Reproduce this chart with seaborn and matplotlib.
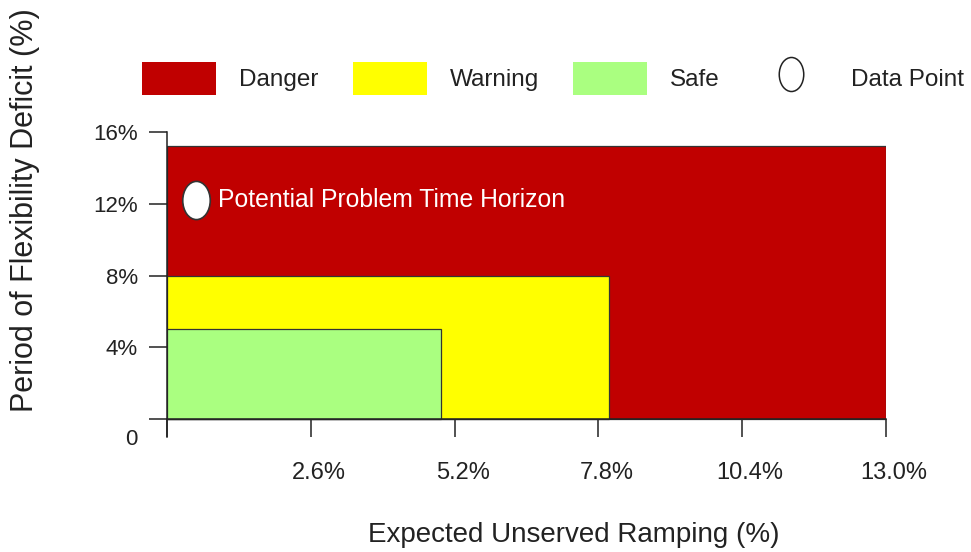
import matplotlib
matplotlib.use('Agg')
import matplotlib.pyplot as plt
from matplotlib.path import Path
from matplotlib.transforms import Affine2D, ScaledTranslation
from matplotlib.patches import Patch
from matplotlib.lines import Line2D
import pandas as pd
import seaborn as sns

# zone extents (x = expected unserved ramping %, y = period of flexibility deficit %)
zones = ['Danger', 'Warning', 'Safe']
zone_ramping = [13.0, 8.0, 4.95]
zone_deficit = [15.2, 8.0, 5.0]
zone_colors = ['#C00000', '#FFFF00', '#AAFF80']

# the single data point
point_ramping = [0.52]
point_deficit = [12.2]
point_label = 'Potential Problem Time Horizon'

xticks = [0, 2.6, 5.2, 7.8, 10.4, 13.0]
xticklabels = ['', '2.6%', '5.2%', '7.8%', '10.4%', '13.0%']
yticks = [0, 4, 8, 12, 16]
yticklabels = ['0', '4%', '8%', '12%', '16%']

sns.set_style('ticks')
plt.rcParams['font.family'] = ['Liberation Sans', 'DejaVu Sans']
ink = '#222222'

fig = plt.figure(figsize=(9.71, 5.52), dpi=100)
ax = fig.add_axes([167/971, 1 - 437/552, 719/971, 305/552])

# zones, biggest first so the smaller ones sit on top
for z, w, h, c in zip(zones, zone_ramping, zone_deficit, zone_colors):
    ax.bar(0, h, width=w, align='edge', color=c, edgecolor='#333333',
           linewidth=0.9, zorder=2)

# elliptical marker
ellipse = Path.unit_circle().transformed(Affine2D().scale(0.72, 1.0))
df = pd.DataFrame({'x': point_ramping, 'y': point_deficit})
sns.scatterplot(data=df, x='x', y='y', marker=ellipse, s=27.5**2, color='white',
                edgecolor='#333333', linewidth=1.2, ax=ax, zorder=3)
ax.text(point_ramping[0] + 0.4, point_deficit[0], point_label, color='white',
        fontsize=17.8, va='center', ha='left', zorder=4)

ax.set_xlim(0, 13)
ax.set_ylim(-1, 16)
ax.spines['bottom'].set_position(('data', 0))
ax.spines[['top', 'right']].set_visible(False)
for s in ['left', 'bottom']:
    ax.spines[s].set_linewidth(1.1)
    ax.spines[s].set_color(ink)

ax.set_xticks(xticks, xticklabels)
ax.set_yticks(yticks, yticklabels)
ax.tick_params(axis='both', direction='out', length=13, width=1.1, color=ink,
               labelsize=16, labelcolor=ink)
ax.tick_params(axis='x', pad=18, labelsize=17)
ax.tick_params(axis='y', pad=8)

# nudge labels like in the original
for lab in ax.get_xticklabels():
    lab.set_transform(lab.get_transform() + ScaledTranslation(8/100, 0, fig.dpi_scale_trans))
lab0 = ax.get_yticklabels()[0]
lab0.set_transform(lab0.get_transform() + ScaledTranslation(0, -18/100, fig.dpi_scale_trans))

ax.set_xlabel('Expected Unserved Ramping (%)', fontsize=20, color=ink)
ax.xaxis.set_label_coords(0.566, -0.279)
ax.set_ylabel('Period of Flexibility Deficit (%)', fontsize=22, color=ink)
ax.yaxis.set_label_coords(-0.176, 0.744)

# legend
handles = [Patch(facecolor=c, edgecolor='none', label=z) for z, c in zip(zones, zone_colors)]
handles.append(Line2D([], [], ls='none', marker=ellipse, markersize=24.5,
                      markerfacecolor='white', markeredgecolor=ink,
                      markeredgewidth=1.1, label='Data Point'))
fig.legend(handles=handles, loc='upper left', bbox_to_anchor=(142/971, 1 - 62/552),
           ncol=4, frameon=False, fontsize=17.5, handlelength=3.05, handleheight=1.71,
           handletextpad=0.95, columnspacing=1.4, borderpad=0, borderaxespad=0,
           labelcolor=ink)

fig.savefig('out.png', dpi=100)
